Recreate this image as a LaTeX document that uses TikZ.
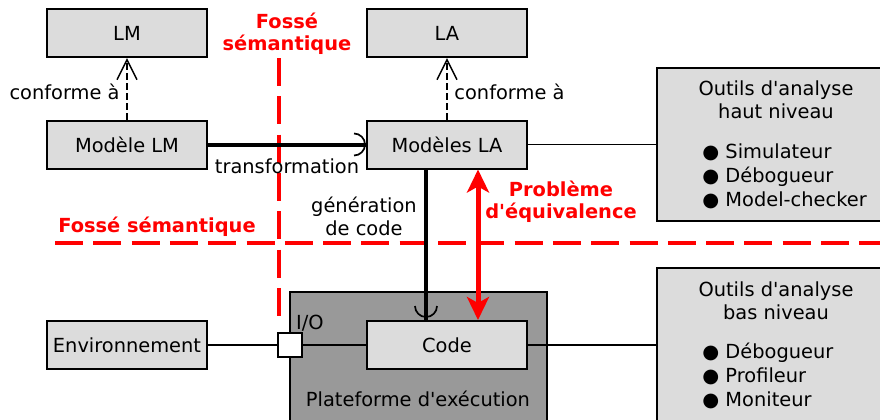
\documentclass[tikz,border=0pt]{standalone}
\usepackage{fontspec}
\setmainfont{DejaVu Sans}
\usepackage{tikz}
\usetikzlibrary{
  arrows.meta,
  positioning
}
\definecolor{boxgray}{HTML}{DCDCDC}
\definecolor{platgray}{HTML}{999999}
\newcommand{\ap}{\textquotesingle}

\begin{document}
\begin{tikzpicture}[
      x=1pt,y=1pt,
      font=\fontsize{9.7}{11.5}\selectfont,
      box/.style={
         rectangle,
         draw=black,
         line width=1pt,
         fill=boxgray,
         minimum width=80pt,
         minimum height=24pt,
         inner sep=0pt
      },
      tools/.style={
         rectangle,
         draw=black,
         line width=1pt,
         fill=boxgray,
         minimum width=113.5pt,
         inner sep=0pt
      },
      platbox/.style={
         rectangle,
         draw=black,
         line width=1pt,
         fill=platgray,
         minimum width=128.5pt,
         minimum height=66.5pt
      },
      port/.style={
         rectangle,
         draw=black,
         line width=0.75pt,
         fill=white,
         minimum size=12pt,
         inner sep=0pt
      },
      list/.style={anchor=west, align=left, inner sep=0pt,
         font=\fontsize{9.7}{12}\selectfont},
      link/.style={draw, line width=0.75pt},
      conform/.style={draw, line width=0.75pt, dash pattern=on 3.5pt off 1.5pt,
         -{Straight Barb[length=10pt,width=10pt]}},
      flow/.style={draw, line width=2pt},
      socket/.style={draw, line width=0.85pt},
      gap/.style={draw=red, line width=2pt, dash pattern=on 14pt off 5.15pt},
      redlbl/.style={text=red, align=center,
         font=\fontsize{9.7}{11}\selectfont\bfseries},
      equiv/.style={draw=red, line width=2.5pt, <->,
         >={Stealth[length=11.5pt,width=11pt,inset=3pt]}}
    ]
    \useasboundingbox (0,0) rectangle (440,-209.5);

    % semantic gaps
    \coordinate (gapTop) at (139.5,-29);
    \coordinate (gapBot) at (139.5,-160);
    \coordinate (gapL) at (27.5,-121.5);
    \coordinate (gapR) at (445,-121.5);
    \draw[gap] (gapTop) -- (gapBot);
    \draw[gap] (gapL) -- (gapR);
    \node (gapTopLbl) [redlbl] at (143.5,-17) {Fossé\\sémantique};
    \node (gapLbl) [redlbl] at (78.5,-113.5) {Fossé sémantique};

    % models
    \node (lm) [box] at (63.5,-16.5) {LM};
    \node (la) [box] at (223.5,-16.5) {LA};
    \node (modlm) [box] at (63.5,-72.25) {Modèle LM};
    \node (modla) [box] at (223.5,-72.25) {Modèles LA};

    % platform
    \node (plat) [platbox] at (209.25,-179.25) {};
    \node (platLbl) at (209,-199.5) {Plateforme d\ap exécution};
    \node (env) [box] at (63.5,-172.5) {Environnement};
    \node (code) [box] at (223.5,-172.5) {Code};
    \node (io) [port] at (145,-172.5) {};
    \node (ioLbl) at (155,-161.5) {I/O};

    % tools
    \node (hautTools) [tools, minimum height=76.5pt] at (385.25,-72.25) {};
    \node (hautTitle) [align=center] at (388,-50) {Outils d\ap analyse\\haut niveau};
    \node (hautList) [list] at (351,-88) {● Simulateur\\● Débogueur\\● Model-checker};
    \node (basTools) [tools, minimum height=78.5pt] at (385.25,-173.25) {};
    \node (basTitle) [align=center] at (388,-150.25) {Outils d\ap analyse\\bas niveau};
    \node (basList) [list] at (351,-188) {● Débogueur\\● Profileur\\● Moniteur};

    % connectors
    \draw[conform] (modlm) -- node (conf1) [midway, left, yshift=-1.5pt] {conforme à} (lm);
    \draw[conform] (modla) -- node (conf2) [midway, right, yshift=-1.5pt] {conforme à} (la);
    \draw[flow] (modlm) -- node (trLbl) [midway, yshift=-11pt] {transformation} (modla.west);
    \draw[socket] ([xshift=-6pt,yshift=5.5pt]modla.west) arc[start angle=90,end angle=-90,radius=5.5pt];
    \draw[flow] ([xshift=-10.5pt]modla.south) -- ([xshift=-10.5pt]code.north);
    \draw[socket] ([xshift=-16pt,yshift=7pt]code.north) arc[start angle=180,end angle=360,radius=5.5pt];
    \node (genLbl) [align=center] at (182,-108) {génération\\de code};
    \draw[equiv] ([xshift=15.5pt]modla.south) -- ([xshift=15.5pt]code.north);
    \node (equivLbl) [redlbl] at (280.5,-101) {Problème\\d\ap équivalence};
    \draw[link] (modla.east) -- (modla.east -| hautTools.west);
    \draw[link] (env) -- (io);
    \draw[link] (io) -- (code);
    \draw[link] (code.east) -- (code.east -| basTools.west);
\end{tikzpicture}
\end{document}
